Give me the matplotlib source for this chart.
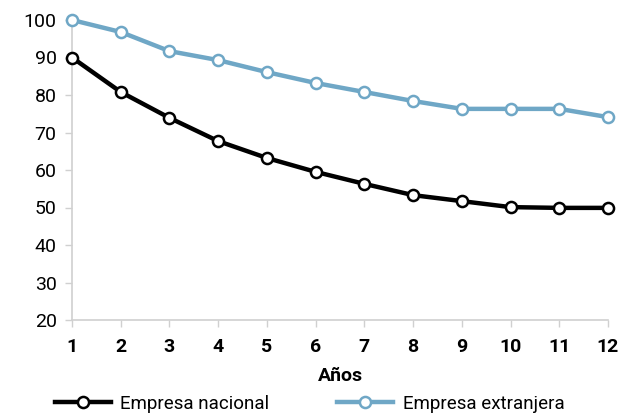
import matplotlib
matplotlib.use("Agg")
import matplotlib.pyplot as plt

plt.rcParams["font.family"] = ["Roboto", "DejaVu Sans"]

years = list(range(1, 13))
nacional = [90, 80.8, 73.9, 67.7, 63.2, 59.5, 56.3, 53.3, 51.7, 50.1, 49.9, 49.9]
extranjera = [100, 96.8, 91.7, 89.3, 86.1, 83.2, 80.8, 78.4, 76.3, 76.3, 76.3, 74.1]

blue = "#6fa7c6"
grey = "#d0d0d0"

fig = plt.figure(figsize=(6.19, 4.16), dpi=100)
ax = fig.add_axes([72 / 619, 1 - 320 / 416, (608 - 72) / 619, 300 / 416])

ax.plot(years, nacional, color="black", lw=3.2, marker="o", ms=8,
        mfc="white", mec="black", mew=1.8, label="Empresa nacional", clip_on=False, zorder=3)
ax.plot(years, extranjera, color=blue, lw=3.2, marker="o", ms=8,
        mfc="white", mec=blue, mew=1.8, label="Empresa extranjera", clip_on=False, zorder=3)

ax.set_xlim(1, 12)
ax.set_ylim(20, 100)
ax.set_xticks(years)
ax.set_yticks(range(20, 101, 10))
ax.tick_params(axis="both", direction="out", length=5, color=grey, width=1)
ax.tick_params(axis="y", labelsize=14, pad=6)
ax.tick_params(axis="x", labelsize=14, pad=8)
for lab in ax.get_xticklabels():
    lab.set_fontweight("bold")

for s in ("top", "right"):
    ax.spines[s].set_visible(False)
for s in ("left", "bottom"):
    ax.spines[s].set_color(grey)
    ax.spines[s].set_linewidth(1.2)

ax.set_xlabel("Años", fontsize=14, fontweight="bold", labelpad=8)

fig.legend(loc="center", bbox_to_anchor=(0.5, 1 - 404 / 416), ncol=2,
           frameon=False, fontsize=13.5, handlelength=3.0, columnspacing=3.6,
           handletextpad=0.5, borderpad=0.1)

fig.savefig("out.png", dpi=100)
